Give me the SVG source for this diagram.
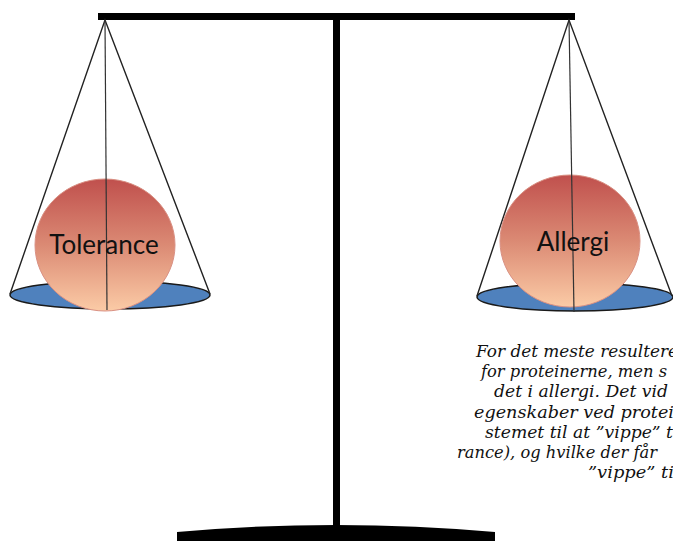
<svg xmlns="http://www.w3.org/2000/svg" width="673" height="541" viewBox="0 0 673 541">
<defs>
<linearGradient id="ball" x1="0" y1="0" x2="0" y2="1">
<stop offset="0" stop-color="#C0504D"/>
<stop offset="0.5" stop-color="#DB8A74"/>
<stop offset="1" stop-color="#FBCBA6"/>
</linearGradient>
</defs>
<style>
.beam{fill:#000}
.pan{fill:#4F81BD;stroke:#1a1a1a;stroke-width:1.5}
.ball{fill:url(#ball);stroke:#D99083;stroke-width:1}
.cone{fill:none;stroke:#222;stroke-width:1.4}
.axis{fill:none;stroke:#333;stroke-width:1.2}
.lbl{font-family:Lato,"Open Sans","Liberation Sans",sans-serif;font-size:26px;fill:#111;text-anchor:middle}
.note{font-family:"DejaVu Serif",serif;font-style:italic;font-size:16px;fill:#111}
</style>
<g id="stand">
<rect class="beam" x="98" y="13" width="477" height="7"/>
<rect class="beam" x="333" y="20" width="7" height="510"/>
<path class="beam" d="M177,541 L177,532 Q336,518 495,532 L495,541 Z"/>
</g>
<g id="tolerance">
<ellipse class="pan" cx="110" cy="295" rx="100" ry="14"/>
<path class="cone" d="M10,294 L105,20 L210,294"/>
<ellipse class="ball" cx="105" cy="245" rx="70" ry="66"/>
<line class="axis" x1="105" y1="20" x2="107" y2="310"/>
<text class="lbl" x="104" y="254">Tolerance</text>
</g>
<g id="allergi">
<ellipse class="pan" cx="575" cy="297" rx="98" ry="14"/>
<path class="cone" d="M477,296 L569,20 L672,296"/>
<ellipse class="ball" cx="570" cy="241" rx="70" ry="66"/>
<line class="axis" x1="569" y1="20" x2="574" y2="312"/>
<text class="lbl" x="573" y="251">Allergi</text>
</g>
<g id="note" class="note">
<text x="476" y="357" textLength="202" lengthAdjust="spacingAndGlyphs">For det meste resultere</text>
<text x="481" y="377" textLength="186" lengthAdjust="spacingAndGlyphs">for proteinerne, men s</text>
<text x="494" y="397" textLength="174" lengthAdjust="spacingAndGlyphs">det i allergi. Det vid</text>
<text x="474" y="418" textLength="200" lengthAdjust="spacingAndGlyphs">egenskaber ved protei</text>
<text x="485" y="438" textLength="188" lengthAdjust="spacingAndGlyphs">stemet til at ”vippe” t</text>
<text x="457" y="458" textLength="200" lengthAdjust="spacingAndGlyphs">rance), og hvilke der får</text>
<text x="588" y="478" textLength="86" lengthAdjust="spacingAndGlyphs">”vippe” ti</text>
</g>
</svg>
